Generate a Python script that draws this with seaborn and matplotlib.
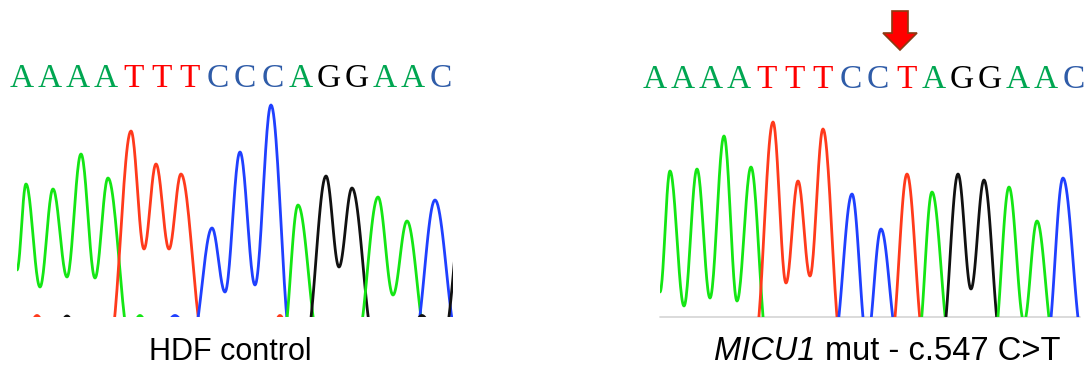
import numpy as np
import matplotlib
matplotlib.use('Agg')
import matplotlib.pyplot as plt
import seaborn as sns
from matplotlib.patches import FancyArrow

# ------------------------------------------------------- #
#                          DATA                           #
# ------------------------------------------------------- #
seq_control = list('AAAATTTCCCAGGAAC')
seq_mutant = list('AAAATTTCCTAGGAAC')

# chromatogram extrema: (base, scan positions, signal)
control_traces = [
    ('A', [0, 9, 23, 36, 50, 64, 78, 91, 113], [47, 133, 30, 128, 40, 163, 39, 139, -25]),
    ('T', [93, 114, 127, 139, 152, 164, 187], [-25, 186, 68, 153, 68, 143, -25]),
    ('C', [175, 195, 208, 223, 238, 254, 274], [-25, 89, 25, 165, 32, 212, -25]),
    ('A', [266, 281, 302], [-25, 112, -25]),
    ('G', [289, 309, 322, 335, 357], [-25, 141, 50, 129, -25]),
    ('A', [340, 361, 376, 390, 410], [-25, 120, 22, 96, -25]),
    ('C', [397, 418, 441], [-25, 117, -25]),
    ('G', [426, 450], [-25, 150]),
    # small signal left along the baseline
    ('T', [14, 20, 26], [-4, 1.5, -4]),
    ('G', [44, 50, 56], [-4, 1.0, -4]),
    ('A', [117, 123, 129], [-4, 1.5, -4]),
    ('C', [150, 158, 166], [-4, 1.5, -4]),
    ('T', [258, 263, 268], [-4, 1.5, -4]),
    ('G', [398, 405, 412], [-4, 1.5, -4]),
]

mutant_traces = [
    ('A', [0, 10, 24, 37, 50, 64, 77, 91, 107], [25, 146, 11, 148, 19, 181, 16, 150, -25]),
    ('T', [95, 113, 126, 138, 150, 163, 181], [-25, 195, 34, 136, 41, 188, -25]),
    ('C', [174, 192, 207, 221, 238], [-25, 123, -25, 88, -25]),
    ('T', [231, 247, 264], [-25, 143, -25]),
    ('A', [258, 272, 290], [-25, 125, -25]),
    ('G', [282, 298, 311, 324, 341], [-25, 143, 28, 137, -25]),
    ('A', [334, 349, 364, 377, 394], [-25, 130, -5, 96, -25]),
    ('C', [387, 403, 423], [-25, 139, -25]),
]

trace_colors = {'A': '#14e614', 'T': '#ff3a1c', 'C': '#1f40ff', 'G': '#111111'}
letter_colors = {'A': '#00a651', 'T': '#ff0000', 'C': '#2f5ca8', 'G': '#000000'}


def wave(xs, hs, n=24):
    # half-cosine between consecutive extrema, like a sequencer trace
    px, py = [], []
    for i in range(len(xs) - 1):
        t = np.linspace(0, 1, n, endpoint=False)
        px.append(xs[i] + (xs[i + 1] - xs[i]) * t)
        py.append(hs[i] + (hs[i + 1] - hs[i]) * (1 - np.cos(np.pi * t)) / 2)
    px.append([xs[-1]])
    py.append([hs[-1]])
    return np.concatenate(px), np.concatenate(py)


# ------------------------------------------------------- #
#                          FIGURE                         #
# ------------------------------------------------------- #
sns.set_theme(style='white')
W, H = 1087, 369
fig = plt.figure(figsize=(W / 100, H / 100), dpi=100)


def fx(p):
    return p / W


def fy(p):
    return 1 - p / H


panels = [
    (control_traces, 17, 436, False),
    (mutant_traces, 660, 420, True),
]
for traces, left, width, baseline in panels:
    ax = fig.add_axes([fx(left), fy(317), width / W, 222 / H])
    for base, xs, hs in traces:
        x, y = wave(xs, hs)
        sns.lineplot(x=x, y=y, ax=ax, color=trace_colors[base], lw=2.0,
                     sort=False, estimator=None, legend=False)
    if baseline:
        ax.axhline(0, color='#d4d4d4', lw=1.2, clip_on=False, zorder=0)
    ax.set_xlim(0, width)
    ax.set_ylim(0, 222)
    ax.axis('off')

# sequence letters
for seq, x0, base_y in [(seq_control, 22, 87), (seq_mutant, 655, 88)]:
    step = 27.9
    for i, b in enumerate(seq):
        fig.text(fx(x0 + i * step), fy(base_y), b, color=letter_colors[b],
                 fontsize=24, family='Liberation Serif', ha='center', va='baseline')

# mutation arrow
arrow = FancyArrow(fx(900), fy(11), 0, -22 / H, width=16 / W,
                   head_width=34 / W, head_length=17 / H,
                   transform=fig.transFigure, facecolor='#ff0000',
                   edgecolor='#8b3a12', lw=1.2)
fig.patches.append(arrow)

# captions
cap = dict(family='Liberation Sans', color='black', va='baseline')
fig.text(fx(230), fy(360), 'HDF control', ha='center', fontsize=22, **cap)
t1 = fig.text(0, fy(360), 'MICU1', style='italic', ha='left', fontsize=23.5, **cap)
t2 = fig.text(0, fy(360), 'mut - c.547 C>T', ha='left', fontsize=23.5, **cap)
fig.canvas.draw()
r = fig.canvas.get_renderer()
w1 = t1.get_window_extent(r).width
w2 = t2.get_window_extent(r).width
gap = 10
start = 887.5 - (w1 + gap + w2) / 2
t1.set_x(fx(start))
t2.set_x(fx(start + w1 + gap))

fig.savefig('out.png', dpi=100)
